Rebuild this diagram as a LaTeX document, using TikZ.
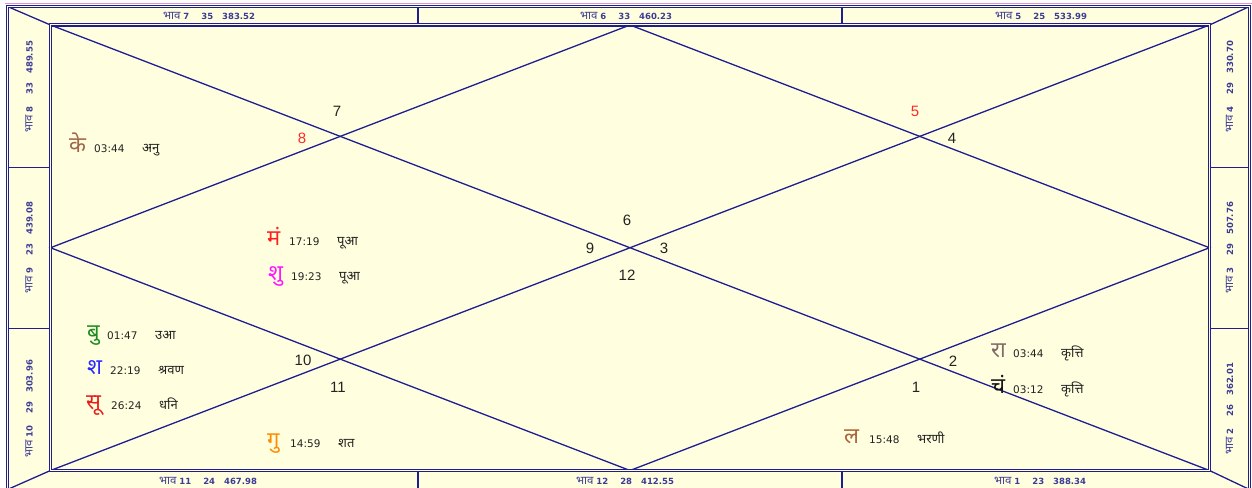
\documentclass[tikz,border=0pt]{standalone}
\usepackage{fontspec}
\setmainfont{Liberation Sans}
\newfontfamily\dev[Script=Devanagari]{Noto Sans}
\newfontfamily\dv{DejaVu Sans}
\definecolor{chartline}{RGB}{30,30,145}
\definecolor{chartbg}{RGB}{255,255,224}
\definecolor{bandtext}{RGB}{60,60,150}
\definecolor{numcol}{RGB}{35,35,35}
\definecolor{rednum}{RGB}{255,40,40}
\definecolor{pinkline}{RGB}{225,150,190}
\definecolor{cKe}{RGB}{160,100,70}
\definecolor{cMa}{RGB}{255,30,30}
\definecolor{cSk}{RGB}{255,20,255}
\definecolor{cBu}{RGB}{30,140,30}
\definecolor{cSh}{RGB}{40,40,255}
\definecolor{cSu}{RGB}{230,30,30}
\definecolor{cGu}{RGB}{255,140,0}
\definecolor{cLa}{RGB}{170,100,60}
\definecolor{cRa}{RGB}{130,105,105}
\definecolor{cCh}{RGB}{20,20,20}
\newcommand\bandfont{\dv\bfseries\fontsize{8.5bp}{9bp}\selectfont}
\newcommand\numfont{\fontsize{15bp}{15bp}\selectfont}
\newcommand\grahfont{\dev\fontsize{22bp}{22bp}\selectfont}
\newcommand\infofont{\fontsize{10.5bp}{11bp}\selectfont}
\newcommand\grahinfo[2]{\makebox[48bp][l]{\dv #1}{\dev\fontsize{13bp}{13bp}\selectfont #2}}
\newcommand\bhava[3]{{\dev\mdseries\fontsize{11.5bp}{12bp}\selectfont भाव} #1\hspace{12bp}#2\hspace{9bp}#3}
\begin{document}
\begin{tikzpicture}[x=1bp,y=-1bp,
  frame/.style={draw=chartline, line width=1.1bp, double=chartbg, double distance=1bp},
  rule/.style={draw=chartline, line width=1.3bp},
  diag/.style={draw=chartline, line width=1.3bp},
  band/.style={inner sep=0, text=bandtext, font=\bandfont},
  hnum/.style={inner sep=0, text=numcol, font=\numfont},
  planet/.style={inner sep=0, anchor=base west, font=\grahfont},
  ptxt/.style={inner sep=0, anchor=base west, text=numcol, font=\infofont}]
\useasboundingbox (0,0) rectangle (1252,488);
\fill[white] (0,0) rectangle (1252,488);
% coordinates
\coordinate (PL) at (5,3.5);
\coordinate (PR) at (1252,3.5);
\coordinate (OTL) at (7.5,6.5);
\coordinate (OTR) at (1249.5,6.5);
\coordinate (OBR) at (1249.5,489.5);
\coordinate (OBL) at (7.5,489.5);
\coordinate (TL) at (50.5,25);
\coordinate (TR) at (1209.5,25);
\coordinate (BR) at (1209.5,470.5);
\coordinate (BL) at (50.5,470.5);
\coordinate (T) at (630,25);
\coordinate (B) at (630,470.5);
\coordinate (L) at (50.5,247.75);
\coordinate (R) at (1209.5,247.75);
% background
\fill[chartbg] (OTL) rectangle (OBR);
\draw[pinkline, line width=1bp] (PL) -- (PR);
% band dividers
\coordinate (t1a) at (418,7.5); \coordinate (t1b) at (418,24);
\coordinate (t2a) at (842,7.5); \coordinate (t2b) at (842,24);
\coordinate (b1a) at (418,471.5); \coordinate (b1b) at (418,489);
\coordinate (b2a) at (842,471.5); \coordinate (b2b) at (842,489);
\coordinate (l1a) at (8.5,167.5); \coordinate (l1b) at (49.5,167.5);
\coordinate (l2a) at (8.5,328.5); \coordinate (l2b) at (49.5,328.5);
\coordinate (r1a) at (1210.5,167.5); \coordinate (r1b) at (1248.5,167.5);
\coordinate (r2a) at (1210.5,328.5); \coordinate (r2b) at (1248.5,328.5);
\draw[rule] (t1a) -- (t1b) (t2a) -- (t2b) (b1a) -- (b1b) (b2a) -- (b2b);
\draw[rule] (l1a) -- (l1b) (l2a) -- (l2b) (r1a) -- (r1b) (r2a) -- (r2b);
% corner diagonals
\draw[diag] (OTL) -- (TL) (OTR) -- (TR) (OBR) -- (BR) (OBL) -- (BL);
% chart lines
\draw[diag] (TL) -- (BR) (TR) -- (BL);
\draw[diag] (T) -- (R) -- (B) -- (L) -- cycle;
% frames
\draw[frame] (OTL) rectangle (OBR);
\draw[frame] (TL) rectangle (BR);
% band texts
\node[band] (h7) at (209,15.5) {\bhava{7}{35}{383.52}};
\node[band] (h6) at (626,15.5) {\bhava{6}{33}{460.23}};
\node[band] (h5) at (1041,15.5) {\bhava{5}{25}{533.99}};
\node[band] (h11) at (208,480.5) {\bhava{11}{24}{467.98}};
\node[band] (h12) at (625,480.5) {\bhava{12}{28}{412.55}};
\node[band] (h1) at (1040,480.5) {\bhava{1}{23}{388.34}};
\node[band, rotate=90] (h8) at (29,87) {\bhava{8}{33}{489.55}};
\node[band, rotate=90] (h9) at (29,248) {\bhava{9}{23}{439.08}};
\node[band, rotate=90] (h10) at (29,409) {\bhava{10}{29}{303.96}};
\node[band, rotate=90] (h4) at (1229.5,87) {\bhava{4}{29}{330.70}};
\node[band, rotate=90] (h3) at (1229.5,248) {\bhava{3}{29}{507.76}};
\node[band, rotate=90] (h2) at (1229.5,409) {\bhava{2}{26}{362.01}};
% house numbers
\node[hnum] (n7) at (337,111) {7};
\node[hnum, text=rednum] (n8) at (302,138) {8};
\node[hnum, text=rednum] (n5) at (915,111) {5};
\node[hnum] (n4) at (952,138) {4};
\node[hnum] (n6) at (627,220) {6};
\node[hnum] (n9) at (590,248) {9};
\node[hnum] (n3) at (664,248) {3};
\node[hnum] (n12) at (627,275) {12};
\node[hnum] (n10) at (303,360) {10};
\node[hnum] (n11) at (338,387) {11};
\node[hnum] (n2) at (953,361) {2};
\node[hnum] (n1) at (916,387) {1};
% planets
\node[planet, text=cKe] (ke) at (69,153) {के};
\node[ptxt] (keinfo) at (94,153) {\grahinfo{03:44}{अनु}};
\node[planet, text=cMa] (ma) at (267,246) {मं};
\node[ptxt] (mainfo) at (289,246) {\grahinfo{17:19}{पूआ}};
\node[planet, text=cSk] (sk) at (268,281) {शु};
\node[ptxt] (skinfo) at (291,281) {\grahinfo{19:23}{पूआ}};
\node[planet, text=cBu] (bu) at (87,340) {बु};
\node[ptxt] (buinfo) at (107,340) {\grahinfo{01:47}{उआ}};
\node[planet, text=cSh] (sh) at (87,375) {श};
\node[ptxt] (shinfo) at (110,375) {\grahinfo{22:19}{श्रवण}};
\node[planet, text=cSu] (su) at (86,409) {सू};
\node[ptxt] (suinfo) at (111,409) {\grahinfo{26:24}{धनि}};
\node[planet, text=cGu] (gu) at (267,447) {गु};
\node[ptxt] (guinfo) at (290,447) {\grahinfo{14:59}{शत}};
\node[planet, text=cLa] (la) at (844,443) {ल};
\node[ptxt] (lainfo) at (869,443) {\grahinfo{15:48}{भरणी}};
\node[planet, text=cRa] (ra) at (991,358) {रा};
\node[ptxt] (rainfo) at (1013,358) {\grahinfo{03:44}{कृत्ति}};
\node[planet, text=cCh] (ch) at (991,393) {चं};
\node[ptxt] (chinfo) at (1013,393) {\grahinfo{03:12}{कृत्ति}};
\end{tikzpicture}
\end{document}
